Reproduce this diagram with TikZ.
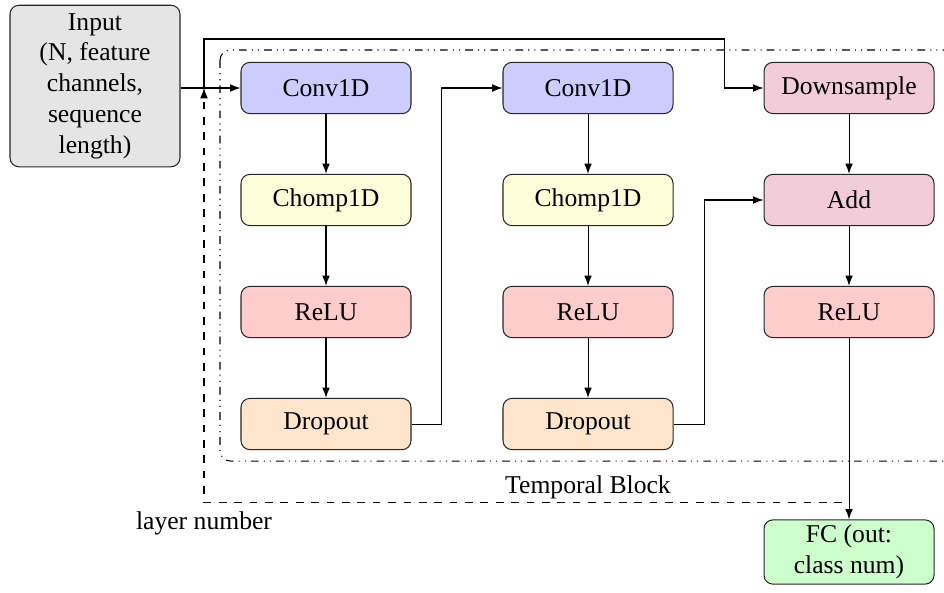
\documentclass[tikz,border=0pt]{standalone}
\usepackage{fontspec}
\setmainfont{Liberation Serif}
\usetikzlibrary{arrows.meta}
\begin{document}
\begin{tikzpicture}[x=0.39pt,y=-0.39pt,
  blk/.style={draw=black!85,rounded corners=3.5pt,minimum width=66.3pt,minimum height=20pt,inner sep=2pt,align=center},
  conv/.style={blk,fill=blue!20},
  chomp/.style={blk,fill=yellow!15},
  relu/.style={blk,fill=red!20},
  drop/.style={blk,fill=orange!20},
  down/.style={blk,fill=purple!20},
  arr/.style={-{Latex[length=4pt,width=3pt]},black},
  link/.style={black}]
\useasboundingbox (0,0) rectangle (944,592);

% temporal block frame
\draw[dash dot dot,black,rounded corners=4pt] (220,50) rectangle (965,461);
\node (tb) at (588,487) {Temporal Block};

% input and output
\node[blk,fill=gray!20,minimum width=66.3pt,minimum height=63pt] (in) at (95,86)
  {Input\\(N, feature\\channels,\\sequence\\length)};
\node[blk,fill=green!20,minimum height=25pt] (fc) at (849,552) {FC (out:\\class num)};

% first column
\node[conv]  (c1) at (326,88)  {Conv1D};
\node[chomp] (h1) at (326,200) {Chomp1D};
\node[relu]  (r1) at (326,312) {ReLU};
\node[drop]  (d1) at (326,424) {Dropout};

% second column
\node[conv]  (c2) at (588,88)  {Conv1D};
\node[chomp] (h2) at (588,200) {Chomp1D};
\node[relu]  (r2) at (588,312) {ReLU};
\node[drop]  (d2) at (588,424) {Dropout};

% residual column
\node[down]  (ds) at (849,88)  {Downsample};
\node[down]  (ad) at (849,200) {Add};
\node[relu]  (r3) at (849,312) {ReLU};

% main flow
\draw[arr] (in.east |- c1) -- (c1);
\draw[arr] (c1) -- (h1);
\draw[arr] (h1) -- (r1);
\draw[arr] (r1) -- (d1);
\draw[arr] (d1.east) -- ++(30,0) |- (c2.west);
\draw[arr] (c2) -- (h2);
\draw[arr] (h2) -- (r2);
\draw[arr] (r2) -- (d2);
\draw[arr] (d2.east) -- ++(31,0) |- (ad.west);
\draw[arr] (ds) -- (ad);
\draw[arr] (ad) -- (r3);
\draw[arr] (r3) -- (fc);

% skip connection
\coordinate (sk) at (204,88);
\draw[arr] (sk) -- (204,39) -- (724,39) |- (ds.west);

% layer repetition
\coordinate (lr) at (842,502);
\draw[arr,dashed] (lr) -- (204,502) -- (sk);
\node (ln) at (204,523) {layer number};
\end{tikzpicture}
\end{document}
